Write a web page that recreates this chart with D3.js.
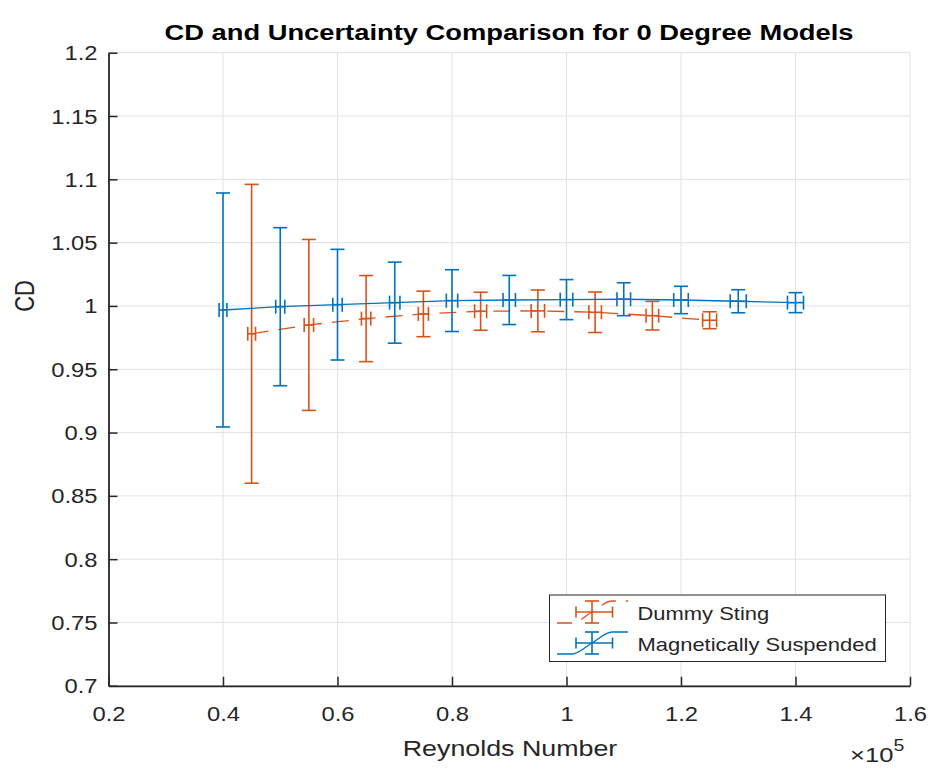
<!DOCTYPE html>
<html><head><meta charset="utf-8">
<script src="https://cdn.jsdelivr.net/npm/d3@7/dist/d3.min.js"></script>
<style>body{margin:0;background:#fff}</style>
</head><body><svg id="c" width="932" height="772"></svg>
<script>
// ---------------- data ----------------
const reDummy    = [0.45, 0.55, 0.65, 0.75, 0.85, 0.95, 1.05, 1.15, 1.25];
const cdDummy    = [0.978, 0.985, 0.990, 0.9937, 0.9958, 0.9961, 0.995, 0.9923, 0.9887];
const cdErrDummy = [0.118, 0.0675, 0.034, 0.018, 0.015, 0.0165, 0.016, 0.0113, 0.0067];
const reErrDummy = [0.0068, 0.0082, 0.0082, 0.0088, 0.0105, 0.0117, 0.011, 0.011, 0.0122];

const reMag    = [0.4, 0.5, 0.6, 0.7, 0.8, 0.9, 1.0, 1.1, 1.2, 1.3, 1.4];
const cdMag    = [0.9968, 0.9994, 1.001, 1.0026, 1.0042, 1.0047, 1.005, 1.0053, 1.0047, 1.0037, 1.0026];
const cdErrMag = [0.0924, 0.0624, 0.0437, 0.032, 0.0244, 0.0194, 0.0158, 0.013, 0.0108, 0.0091, 0.0079];
const reErrMag = [0.0068, 0.0079, 0.0082, 0.0091, 0.0099, 0.0108, 0.011, 0.0119, 0.0127, 0.014, 0.014];

const xTicks = [0.2, 0.4, 0.6, 0.8, 1.0, 1.2, 1.4, 1.6];
const xTickLabels = ["0.2", "0.4", "0.6", "0.8", "1", "1.2", "1.4", "1.6"];
const yTicks = [0.7, 0.75, 0.8, 0.85, 0.9, 0.95, 1.0, 1.05, 1.1, 1.15, 1.2];
const yTickLabels = ["0.7", "0.75", "0.8", "0.85", "0.9", "0.95", "1", "1.05", "1.1", "1.15", "1.2"];

const seriesNames = ["Dummy Sting", "Magnetically Suspended"];
const titleText = "CD and Uncertainty Comparison for 0 Degree Models";
const xLabelText = "Reynolds Number";
const yLabelText = "CD";

// ---------------- layout / style ----------------
const FONT = "'Liberation Sans', Arial, Helvetica, sans-serif";
const SX = 1.22;             // horizontal stretch of the reference's text
const TXT = "#262626";
const colors = ["#D95319", "#0072BD"];
const L = 108.5, R = 910, T = 52.7, B = 685.8;
const CAP = 7;

const svg = d3.select("#c");
const x = d3.scaleLinear().domain([0.2, 1.6]).range([L, R]);
const y = d3.scaleLinear().domain([0.7, 1.2]).range([B, T]);

function stext(parent, px, py, str, size, anchor, weight) {
  return parent.append("text")
    .attr("transform", `translate(${px},${py}) scale(${SX},1)`)
    .attr("text-anchor", anchor || "start")
    .style("font-family", FONT)
    .style("font-size", size + "px")
    .style("font-weight", weight || "normal")
    .attr("fill", TXT)
    .text(str);
}

// grid
const grid = svg.append("g");
grid.selectAll("line.gx").data(xTicks).join("line")
  .attr("x1", d => x(d)).attr("x2", d => x(d)).attr("y1", T).attr("y2", B)
  .attr("stroke", "#e1e1e1").attr("stroke-width", 1);
grid.selectAll("line.gy").data(yTicks).join("line")
  .attr("x1", L).attr("x2", R).attr("y1", d => y(d)).attr("y2", d => y(d))
  .attr("stroke", "#e1e1e1").attr("stroke-width", 1);

// series
function drawSeries(re, cd, cdErr, reErr, color, dashed) {
  const pts = re.map((r, i) => ({r, c: cd[i], e: cdErr[i], h: reErr[i]}));
  const g = svg.append("g").attr("stroke", color).attr("fill", "none");
  g.append("path").datum(pts)
    .attr("d", d3.line().x(d => x(d.r)).y(d => y(d.c)))
    .attr("stroke-width", 1.3)
    .attr("stroke-dasharray", dashed ? "17,10" : null);
  const eb = g.selectAll("g.eb").data(pts).join("g").attr("stroke-width", 1.6);
  eb.append("line").attr("x1", d => x(d.r)).attr("x2", d => x(d.r))
    .attr("y1", d => y(d.c - d.e)).attr("y2", d => y(d.c + d.e));
  eb.append("line").attr("x1", d => x(d.r) - CAP).attr("x2", d => x(d.r) + CAP)
    .attr("y1", d => y(d.c + d.e)).attr("y2", d => y(d.c + d.e));
  eb.append("line").attr("x1", d => x(d.r) - CAP).attr("x2", d => x(d.r) + CAP)
    .attr("y1", d => y(d.c - d.e)).attr("y2", d => y(d.c - d.e));
  eb.append("line").attr("x1", d => x(d.r - d.h)).attr("x2", d => x(d.r + d.h))
    .attr("y1", d => y(d.c)).attr("y2", d => y(d.c));
  eb.append("line").attr("x1", d => x(d.r - d.h)).attr("x2", d => x(d.r - d.h))
    .attr("y1", d => y(d.c) - CAP).attr("y2", d => y(d.c) + CAP);
  eb.append("line").attr("x1", d => x(d.r + d.h)).attr("x2", d => x(d.r + d.h))
    .attr("y1", d => y(d.c) - CAP).attr("y2", d => y(d.c) + CAP);
}
drawSeries(reDummy, cdDummy, cdErrDummy, reErrDummy, colors[0], true);
drawSeries(reMag, cdMag, cdErrMag, reErrMag, colors[1], false);

// axes
function styleAxis(g) {
  g.selectAll("path.domain").attr("stroke", TXT).attr("stroke-width", 1.8);
  g.selectAll(".tick line").attr("stroke", TXT).attr("stroke-width", 1.5);
  g.selectAll(".tick text").each(function() {
    const t = d3.select(this);
    const tx = +t.attr("x") || 0, ty = +t.attr("y") || 0;
    t.attr("x", null).attr("y", null)
      .attr("transform", `translate(${tx},${ty}) scale(${SX},1)`)
      .attr("fill", TXT).style("font-family", FONT).style("font-size", "19.5px");
  });
}
const xAxis = d3.axisBottom(x).tickValues(xTicks)
  .tickFormat((d, i) => xTickLabels[i]).tickSizeInner(-9).tickSizeOuter(0).tickPadding(21);
const gx = svg.append("g").attr("transform", `translate(0,${B})`).call(xAxis);
styleAxis(gx);
const yAxis = d3.axisLeft(y).tickValues(yTicks)
  .tickFormat((d, i) => yTickLabels[i]).tickSizeInner(-9).tickSizeOuter(0).tickPadding(11);
const gy = svg.append("g").attr("transform", `translate(${L},0)`).call(yAxis);
styleAxis(gy);
gy.selectAll(".tick text").attr("dy", "0.36em");

// titles
stext(svg, 509, 39.5, titleText, 22.4, "middle", "bold").attr("fill", "#000");
stext(svg, 510, 756, xLabelText, 22, "middle");
svg.append("text")
  .attr("transform", `translate(34,296) scale(${SX},1) rotate(-90)`)
  .attr("text-anchor", "middle").style("font-family", FONT).style("font-size", "22px")
  .attr("fill", TXT).text(yLabelText);
const ex = stext(svg, 850, 762, "", 21, "start");
ex.append("tspan").text("\u00d7");
ex.append("tspan").text("10");
ex.append("tspan").attr("dy", -11).style("font-size", "16px").text("5");

// legend
const lg = svg.append("g");
lg.append("rect").attr("x", 549.5).attr("y", 595).attr("width", 336).attr("height", 66.5)
  .attr("fill", "#fff").attr("stroke", TXT).attr("stroke-width", 1);
const rows = [612, 643];
const half = 11;
rows.forEach((cy, i) => {
  const c = colors[i];
  const cx = 592;
  const icon = lg.append("g").attr("stroke", c).attr("fill", "none");
  icon.append("path")
    .attr("d", d3.line().curve(d3.curveMonotoneX)([[557, cy + half], [572, cy + half], [592, cy], [612, cy - half], [628, cy - half]]))
    .attr("stroke-width", 1.3)
    .attr("stroke-dasharray", i === 0 ? "15,10" : null);
  const ib = icon.append("g").attr("stroke-width", 1.6);
  ib.append("line").attr("x1", cx).attr("x2", cx).attr("y1", cy - half).attr("y2", cy + half);
  ib.append("line").attr("x1", cx - CAP).attr("x2", cx + CAP).attr("y1", cy - half).attr("y2", cy - half);
  ib.append("line").attr("x1", cx - CAP).attr("x2", cx + CAP).attr("y1", cy + half).attr("y2", cy + half);
  ib.append("line").attr("x1", 576).attr("x2", 612.5).attr("y1", cy).attr("y2", cy);
  ib.append("line").attr("x1", 576).attr("x2", 576).attr("y1", cy - 5.5).attr("y2", cy + 5.5);
  ib.append("line").attr("x1", 612.5).attr("x2", 612.5).attr("y1", cy - 5.5).attr("y2", cy + 5.5);
  stext(lg, 637.5, cy + 8, seriesNames[i], 18, "start");
});
</script></body></html>
